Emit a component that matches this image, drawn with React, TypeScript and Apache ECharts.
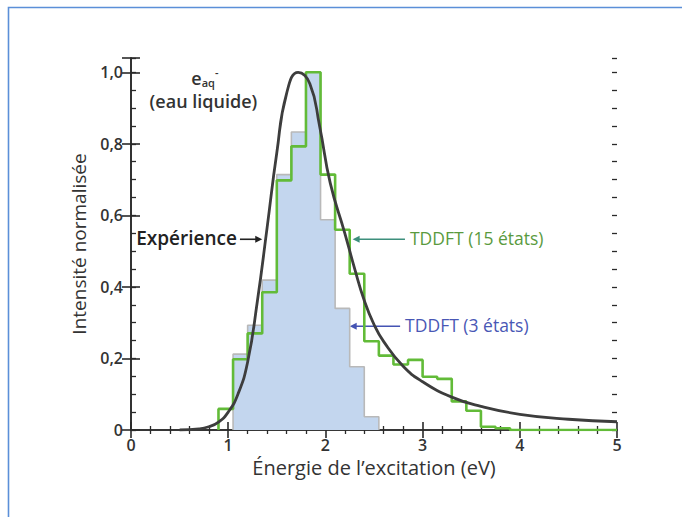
import React, { useEffect, useRef } from "react";
import * as echarts from "echarts";

// Left edges of the histogram bins (eV), bin width 0.15 eV
const edges15 = [0.9, 1.05, 1.2, 1.35, 1.5, 1.65, 1.8, 1.95, 2.1, 2.25, 2.4, 2.55, 2.7, 2.85, 3.0, 3.15, 3.3, 3.45, 3.6, 3.75];
const tddft15 = [0.059, 0.198, 0.27, 0.385, 0.698, 0.793, 1.0, 0.714, 0.56, 0.437, 0.248, 0.208, 0.183, 0.196, 0.149, 0.143, 0.08, 0.054, 0.009, 0.005];

const edges3 = [1.05, 1.2, 1.35, 1.5, 1.65, 1.8, 1.95, 2.1, 2.25, 2.4];
const tddft3 = [0.212, 0.293, 0.419, 0.714, 0.833, 1.0, 0.588, 0.34, 0.177, 0.037];

const binWidth = 0.15;

// Measured absorption spectrum of the hydrated electron
const expEnergy = [0.5, 0.7, 0.8, 0.9, 1.0, 1.1, 1.2, 1.3, 1.4, 1.5, 1.6, 1.72, 1.84, 1.94, 2.05, 2.2, 2.3, 2.4, 2.5, 2.6, 2.8, 3.0, 3.3, 3.6, 4.0, 4.5, 5.0];
const expIntensity = [0.0, 0.003, 0.009, 0.022, 0.05, 0.1, 0.19, 0.36, 0.565, 0.775, 0.94, 1.0, 0.968, 0.85, 0.69, 0.55, 0.452, 0.362, 0.295, 0.247, 0.178, 0.135, 0.092, 0.066, 0.044, 0.03, 0.023];

const xTicks = [0, 1, 2, 3, 4, 5];
const yMajor = 0.2;

const FONT = "'Open Sans', 'Noto Sans', sans-serif";
const TEXT = "#333333";
const AXIS = "#2a2a2a";

function stepPoints(edges: number[], values: number[], tailTo?: number) {
  const pts: number[][] = [[edges[0], 0]];
  values.forEach((v, i) => pts.push([edges[i], v]));
  const end = edges[edges.length - 1] + binWidth;
  pts.push([end, 0]);
  if (tailTo !== undefined) pts.push([tailTo, 0]);
  return pts;
}

function yLabel(v: number) {
  const k = v / yMajor;
  if (Math.abs(k - Math.round(k)) > 1e-6) return "";
  if (Math.abs(v) < 1e-9) return "0";
  return v.toFixed(1).replace(".", ",");
}

function arrow(x1: number, y: number, x2: number, color: string) {
  const dir = x2 < x1 ? -1 : 1;
  const head = 7;
  return {
    type: "group",
    children: [
      { type: "line", shape: { x1, y1: y, x2: x2 - dir * head * 0.6, y2: y }, style: { stroke: color, lineWidth: 1.6 } },
      {
        type: "polygon",
        shape: { points: [[x2, y], [x2 - dir * head, y - 3.5], [x2 - dir * head, y + 3.5]] },
        style: { fill: color },
      },
    ],
  };
}

export default function App() {
  const ref = useRef<HTMLDivElement>(null);

  useEffect(() => {
    if (!ref.current) return;
    const chart = echarts.init(ref.current, undefined, { renderer: "svg" });

    const baseY = { type: "value", min: 0, max: 1.04, splitLine: { show: false } };
    const baseX = { type: "value", min: 0, max: 5, interval: 1, splitLine: { show: false } };

    chart.setOption({
      animation: false,
      backgroundColor: "#ffffff",
      grid: { left: 131, right: 65, top: 58, bottom: 87, containLabel: false },
      xAxis: [
        {
          ...baseX,
          position: "bottom",
          name: "Énergie de l’excitation (eV)",
          nameLocation: "middle",
          nameGap: 21,
          nameTextStyle: { fontFamily: FONT, fontSize: 20, color: TEXT },
          axisLine: { show: true, lineStyle: { color: AXIS, width: 1.6 } },
          axisTick: { show: true, inside: true, length: 8, lineStyle: { color: AXIS, width: 1.6 } },
          minorTick: { show: true, splitNumber: 5, length: 4, lineStyle: { color: AXIS, width: 1.3 } },
          axisLabel: {
            margin: 7,
            fontFamily: FONT,
            fontSize: 16,
            fontWeight: 600,
            color: TEXT,
            formatter: (v: number) => (xTicks.includes(v) ? String(v) : ""),
          },
        },
        {
          ...baseX,
          position: "top",
          axisLine: { show: true, lineStyle: { color: AXIS, width: 1.6 } },
          axisTick: { show: true, inside: true, length: 8, lineStyle: { color: AXIS, width: 1.6 } },
          minorTick: { show: true, splitNumber: 5, length: 4, lineStyle: { color: AXIS, width: 1.3 } },
          axisLabel: { show: false },
        },
      ],
      yAxis: [
        {
          ...baseY,
          interval: 0.2,
          position: "left",
          name: "Intensité normalisée",
          nameLocation: "middle",
          nameGap: 43,
          nameTextStyle: { fontFamily: FONT, fontSize: 19, color: TEXT },
          axisLine: { show: true, lineStyle: { color: AXIS, width: 1.6 } },
          axisTick: { show: true, inside: true, length: 9, lineStyle: { color: AXIS, width: 1.6 } },
          axisLabel: { margin: 8, fontFamily: FONT, fontSize: 16, fontWeight: 600, color: TEXT, formatter: yLabel },
        },
        {
          ...baseY,
          interval: 0.2,
          position: "right",
          axisLine: { show: true, lineStyle: { color: AXIS, width: 1.6 } },
          axisTick: { show: true, inside: true, length: 9, lineStyle: { color: AXIS, width: 1.6 } },
          axisLabel: { show: false },
        },
        {
          ...baseY,
          interval: 0.05,
          position: "left",
          axisLine: { show: false },
          axisTick: { show: true, inside: true, length: 5, lineStyle: { color: AXIS, width: 1.3 } },
          axisLabel: { show: false },
        },
        {
          ...baseY,
          interval: 0.05,
          position: "right",
          axisLine: { show: false },
          axisTick: { show: true, inside: true, length: 5, lineStyle: { color: AXIS, width: 1.3 } },
          axisLabel: { show: false },
        },
      ],
      series: [
        {
          name: "TDDFT (3 états)",
          type: "line",
          step: "end",
          xAxisIndex: 0,
          yAxisIndex: 0,
          symbol: "none",
          data: stepPoints(edges3, tddft3),
          lineStyle: { color: "#b9b9b9", width: 1.6 },
          areaStyle: { color: "#c3d6ee", opacity: 1 },
          z: 2,
        },
        {
          name: "TDDFT (15 états)",
          type: "line",
          step: "end",
          xAxisIndex: 0,
          yAxisIndex: 0,
          symbol: "none",
          data: stepPoints(edges15, tddft15, 5),
          lineStyle: { color: "#62bb38", width: 2.6 },
          z: 3,
        },
        {
          name: "Expérience",
          type: "line",
          xAxisIndex: 0,
          yAxisIndex: 0,
          symbol: "none",
          smooth: 0.5,
          data: expEnergy.map((e, i) => [e, expIntensity[i]]),
          lineStyle: { color: "#3d3d3d", width: 2.8 },
          z: 4,
        },
      ],
    });

    const px = (x: number, y: number) => chart.convertToPixel({ xAxisIndex: 0, yAxisIndex: 0 }, [x, y]) as number[];

    const expLbl = px(1.09, 0.536);
    const expArrowEnd = px(1.35, 0.536);
    const t15 = px(2.87, 0.536);
    const t15Tip = px(2.28, 0.536);
    const t3 = px(2.82, 0.293);
    const t3Tip = px(2.25, 0.293);
    const eaq = px(0.76, 0.985);
    const eau = px(0.745, 0.92);

    chart.setOption({
      graphic: [
        {
          type: "rect",
          silent: true,
          shape: { x: 8.5, y: 7.5, width: 900, height: 800 },
          style: { fill: "none", stroke: "#5b8fd8", lineWidth: 1.6 },
          z: 10,
        },
        {
          type: "text",
          x: eaq[0],
          y: eaq[1],
          style: {
            text: "{e|e}{s|aq}{p|-}",
            align: "center",
            verticalAlign: "middle",
            rich: {
              e: { fontFamily: FONT, fontSize: 18, fontWeight: 600, fill: TEXT },
              s: { fontFamily: FONT, fontSize: 11, fontWeight: 600, fill: TEXT, padding: [9, 0, 0, 0] },
              p: { fontFamily: FONT, fontSize: 11, fontWeight: 600, fill: TEXT, padding: [0, 0, 11, 0] },
            },
          },
          z: 10,
        },
        {
          type: "text",
          x: eau[0],
          y: eau[1],
          style: {
            text: "(eau liquide)",
            align: "center",
            verticalAlign: "middle",
            fontFamily: FONT,
            fontSize: 18,
            fontWeight: 600,
            fill: TEXT,
          },
          z: 10,
        },
        {
          type: "text",
          x: expLbl[0],
          y: expLbl[1],
          style: {
            text: "Expérience",
            align: "right",
            verticalAlign: "middle",
            fontFamily: FONT,
            fontSize: 19,
            fontWeight: 600,
            fill: "#222222",
          },
          z: 10,
        },
        { ...arrow(expLbl[0] + 3, expLbl[1] + 1, expArrowEnd[0], "#222222"), z: 10 },
        {
          type: "text",
          x: t15[0],
          y: t15[1],
          style: {
            text: "TDDFT (15 états)",
            align: "left",
            verticalAlign: "middle",
            fontFamily: FONT,
            fontSize: 17.5,
            fill: "#5a9a3e",
          },
          z: 10,
        },
        { ...arrow(t15[0] - 5, t15[1] + 1, t15Tip[0], "#3d8f7c"), z: 10 },
        {
          type: "text",
          x: t3[0],
          y: t3[1],
          style: {
            text: "TDDFT (3 états)",
            align: "left",
            verticalAlign: "middle",
            fontFamily: FONT,
            fontSize: 17.5,
            fill: "#4957b5",
          },
          z: 10,
        },
        { ...arrow(t3[0] - 5, t3[1] + 1, t3Tip[0], "#4453b3"), z: 10 },
      ],
    });

    return () => chart.dispose();
  }, []);

  return (
    <div
      ref={ref}
      style={{ position: "fixed", left: 0, top: 0, width: 682, height: 517, background: "#ffffff" }}
    />
  );
}
